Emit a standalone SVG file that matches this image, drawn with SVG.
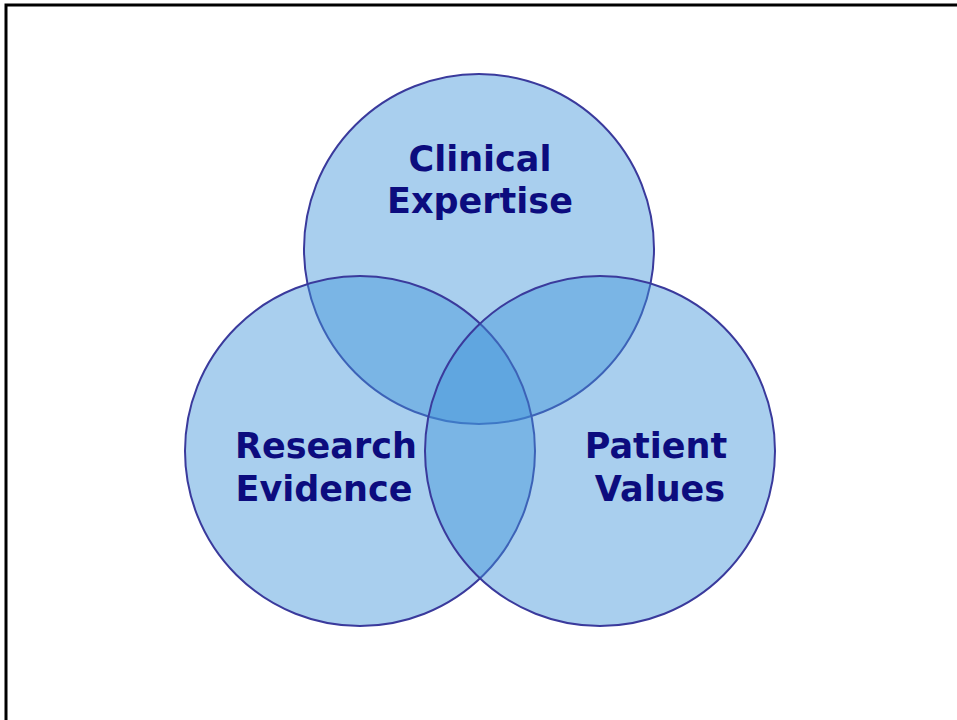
<svg xmlns="http://www.w3.org/2000/svg" width="957" height="720" viewBox="0 0 957 720">
<style>
.c{fill:rgb(65,149,217);fill-opacity:0.45;stroke:#3a3a9c;stroke-width:2}
.t{font-family:"DejaVu Sans","Verdana",sans-serif;font-weight:bold;font-size:35px;fill:#0c0c7e;text-anchor:middle}
</style>
<rect x="0" y="0" width="957" height="720" fill="#fff"/>
<path d="M6,720 V5 H957" fill="none" stroke="#000" stroke-width="3"/>
<g id="clinical"><circle class="c" cx="479" cy="249" r="175"/></g>
<g id="research"><circle class="c" cx="360" cy="451" r="175"/></g>
<g id="patient"><circle class="c" cx="600" cy="451" r="175"/></g>
<g id="labels">
<text class="t" x="480" y="171">Clinical</text>
<text class="t" x="480" y="213">Expertise</text>
<text class="t" x="326" y="458">Research</text>
<text class="t" x="324" y="501">Evidence</text>
<text class="t" x="656" y="458">Patient</text>
<text class="t" x="660" y="501">Values</text>
</g>
<g id="connectors"/>
</svg>
